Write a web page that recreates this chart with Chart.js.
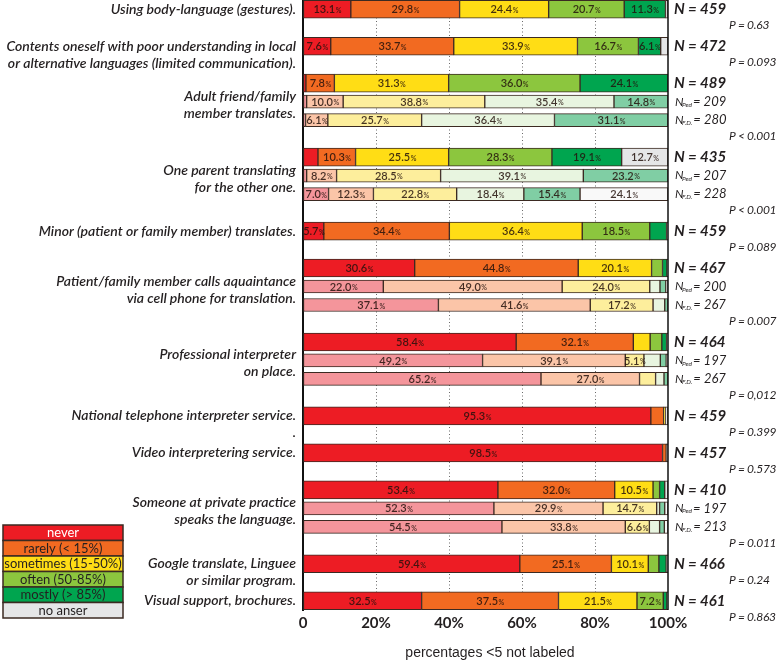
<!DOCTYPE html>
<html>
<head>
<meta charset="utf-8">
<script src="https://cdn.jsdelivr.net/npm/chart.js@4.4.0/dist/chart.umd.min.js"></script>
<style>
  html, body { margin: 0; padding: 0; background: #fff; }
  canvas { display: block; }
</style>
</head>
<body>
<canvas id="chart" width="777" height="663"></canvas>
<script>
// Left hand labels, one per question
const questions = [
    ['Using body-language (gestures).'],
    ['Contents oneself with poor understanding in local', 'or alternative languages (limited communication).'],
    ['Adult friend/family', 'member translates.'],
    ['One parent translating', 'for the other one.'],
    ['Minor (patient or family member) translates.'],
    ['Patient/family member calls aquaintance', 'via cell phone for translation.'],
    ['Professional interpreter', 'on place.'],
    ['National telephone interpreter service.', '.'],
    ['Video interpretering service.'],
    ['Someone at private practice', 'speaks the language.'],
    ['Google translate, Linguee', 'or similar program.'],
    ['Visual support, brochures.']
];
const hasSubgroups = [false, false, true, true, false, true, true, false, false, true, false, false];
const responses = ['never', 'rarely (< 15%)', 'sometimes (15-50%)', 'often (50-85%)', 'mostly (> 85%)', 'no anser'];

// All respondents (%), one value per question
const neverAll     = [13.1, 7.6, 0.8, 4.1, 5.7, 30.6, 58.4, 95.3, 98.5, 53.4, 59.4, 32.5];
const rarelyAll    = [29.8, 33.7, 7.8, 10.3, 34.4, 44.8, 32.1, 3.5, 1.0, 32.0, 25.1, 37.5];
const sometimesAll = [24.4, 33.9, 31.3, 25.5, 36.4, 20.1, 4.6, 0.4, 0, 10.5, 10.1, 21.5];
const oftenAll     = [20.7, 16.7, 36.0, 28.3, 18.5, 3.0, 3.2, 0, 0, 1.8, 2.9, 7.2];
const mostlyAll    = [11.3, 6.1, 24.1, 19.1, 4.6, 1.2, 1.3, 0, 0, 1.4, 2.0, 1.0];
const noAnswerAll  = [0.7, 2.0, 0, 12.7, 0.4, 0.3, 0.4, 0.8, 0.5, 0.9, 0.5, 0.3];

// Pediatricians (%), only questions with subgroups
const neverPed     = [1.0, 1.0, 22.0, 49.2, 52.3];
const rarelyPed    = [10.0, 8.2, 49.0, 39.1, 29.9];
const sometimesPed = [38.8, 28.5, 24.0, 5.1, 14.7];
const oftenPed     = [35.4, 39.1, 2.8, 4.5, 0.8];
const mostlyPed    = [14.8, 23.2, 1.6, 1.6, 1.4];
const noAnswerPed  = [0, 0, 0.6, 0.5, 0.9];

// Family doctors (%), only questions with subgroups
const neverFD      = [0.7, 7.0, 37.1, 65.2, 54.5];
const rarelyFD     = [6.1, 12.3, 41.6, 27.0, 33.8];
const sometimesFD  = [25.7, 22.8, 17.2, 4.4, 6.6];
const oftenFD      = [36.4, 18.4, 3.2, 2.3, 2.8];
const mostlyFD     = [31.1, 15.4, 0.9, 1.1, 1.3];
const noAnswerFD   = [0, 24.1, 0, 0, 1.0];

const nAll = [459, 472, 489, 435, 459, 467, 464, 459, 457, 410, 466, 461];
const nPed = [209, 207, 200, 197, 197];
const nFD  = [280, 228, 267, 267, 213];
const pValues = ['P = 0.63', 'P = 0.093', 'P < 0.001', 'P < 0.001', 'P = 0.089', 'P = 0.007',
                 'P = 0,012', 'P = 0.399', 'P = 0.573', 'P = 0.011', 'P = 0.24', 'P = 0.863'];
const xTicks = [0, 20, 40, 60, 80, 100];

const allSeries = [neverAll, rarelyAll, sometimesAll, oftenAll, mostlyAll, noAnswerAll];
const pedSeries = [neverPed, rarelyPed, sometimesPed, oftenPed, mostlyPed, noAnswerPed];
const fdSeries  = [neverFD, rarelyFD, sometimesFD, oftenFD, mostlyFD, noAnswerFD];

const strongColors = ['#ed1c24', '#f26a21', '#ffdd15', '#8cc63e', '#00a54f', '#e5e6e7'];
const paleColors   = ['#f4959b', '#fbc5a8', '#fdee9c', '#e8f5e0', '#80cea4', '#f9f9f9'];
const textDark = '#231f20';

// Work out the row slots: a question takes main bar + gap, or main + 2 subgroup bars + gap
const mainSlot = [];
let slot = 0;
hasSubgroups.forEach(h => { mainSlot.push(slot); slot += h ? 4 : 2; });
const slotCount = slot - 1;
const slotLabels = Array.from({ length: slotCount }, (_, i) => String(i));
const subGroupIndex = hasSubgroups.map((h, i) => h ? i : -1).filter(i => i >= 0);

function emptySlots() {
    return new Array(slotCount).fill(null);
}

const datasets = [];
responses.forEach((name, r) => {
    const data = emptySlots();
    allSeries[r].forEach((v, g) => { data[mainSlot[g]] = v || null; });
    datasets.push({
        label: name, data: data, backgroundColor: strongColors[r],
        borderColor: '#3b2a22', borderWidth: 1, borderSkipped: false, barThickness: 18
    });
});
responses.forEach((name, r) => {
    const data = emptySlots();
    subGroupIndex.forEach((g, k) => {
        data[mainSlot[g] + 1] = pedSeries[r][k] || null;
        data[mainSlot[g] + 2] = fdSeries[r][k] || null;
    });
    datasets.push({
        label: name + ' (subgroups)', data: data, backgroundColor: paleColors[r],
        borderColor: '#3b2a22', borderWidth: 1, borderSkipped: false, barThickness: 13
    });
});

/**
 * Percent labels inside the segments (values below 5 are left out)
 */
const segmentLabels = {
    id: 'segmentLabels',
    afterDatasetsDraw(chart) {
        const ctx = chart.ctx;
        ctx.save();
        ctx.fillStyle = 'rgba(35,18,12,0.85)';
        ctx.textBaseline = 'middle';
        ctx.textAlign = 'left';
        chart.data.datasets.forEach((ds, di) => {
            const meta = chart.getDatasetMeta(di);
            meta.data.forEach((bar, i) => {
                const v = ds.data[i];
                if (v == null || v < 5) return;
                const num = v.toFixed(1);
                ctx.font = '600 11px Lato';
                const w1 = ctx.measureText(num).width;
                ctx.font = '600 7px Lato';
                const w2 = ctx.measureText('%').width;
                const cx = (bar.x + bar.base) / 2;
                const start = cx - (w1 + w2) / 2;
                ctx.font = '600 11px Lato';
                ctx.fillText(num, start, bar.y + 0.5);
                ctx.font = '600 7px Lato';
                ctx.fillText('%', start + w1 + 0.5, bar.y + 1.5);
            });
        });
        ctx.restore();
    }
};

/**
 * Question labels, N counts, P values, frame, legend and footnote
 */
const annotations = {
    id: 'annotations',
    afterDraw(chart) {
        const ctx = chart.ctx;
        const y = chart.scales.y;
        const area = chart.chartArea;
        ctx.save();

        // right frame line
        ctx.strokeStyle = '#111';
        ctx.lineWidth = 1.5;
        ctx.beginPath();
        ctx.moveTo(area.right, area.top);
        ctx.lineTo(area.right, area.bottom);
        ctx.stroke();

        ctx.fillStyle = textDark;
        ctx.textBaseline = 'middle';
        questions.forEach((lines, g) => {
            const yMain = y.getPixelForValue(mainSlot[g]);
            // left labels
            ctx.font = 'italic 600 14px Lato';
            ctx.textAlign = 'right';
            let firstLine = yMain;
            if (hasSubgroups[g]) firstLine = yMain + 13;
            lines.forEach((line, k) => ctx.fillText(line, area.left - 7, firstLine + k * 17));

            // N counts
            ctx.textAlign = 'left';
            ctx.font = 'italic bold 15px Lato';
            ctx.fillText('N', 674, yMain);
            ctx.fillText('= ' + nAll[g], 688, yMain);
            let lastSlot = mainSlot[g];
            if (hasSubgroups[g]) {
                const k = subGroupIndex.indexOf(g);
                [['Ped', nPed[k]], ['F.D.', nFD[k]]].forEach((item, j) => {
                    const yy = y.getPixelForValue(mainSlot[g] + 1 + j);
                    ctx.font = 'italic 12px Lato';
                    ctx.fillText('N', 675, yy);
                    ctx.font = 'italic 6.5px Lato';
                    const subW = ctx.measureText(item[0]).width;
                    ctx.fillText(item[0], 682, yy + 3);
                    ctx.font = 'italic 13px Lato';
                    ctx.fillText('= ' + item[1], 683 + subW, yy);
                });
                lastSlot = mainSlot[g] + 2;
            }
            ctx.font = 'italic 12px Lato';
            ctx.letterSpacing = '-0.3px';
            ctx.fillText(pValues[g], 729, y.getPixelForValue(lastSlot) + 16);
            ctx.letterSpacing = '0px';
        });

        // legend box
        const lx = 3, ly = 525, lw = 120, lh = 15.5;
        responses.forEach((name, r) => {
            ctx.fillStyle = strongColors[r];
            ctx.fillRect(lx, ly + r * lh, lw, lh);
            ctx.strokeStyle = '#3b2a22';
            ctx.lineWidth = 1.5;
            ctx.strokeRect(lx, ly + r * lh, lw, lh);
            ctx.fillStyle = r === 0 ? '#fff' : textDark;
            ctx.font = '13px Lato';
            ctx.textAlign = 'center';
            ctx.fillText(name, lx + lw / 2, ly + r * lh + lh / 2 + 0.5);
        });

        // footnote
        ctx.fillStyle = textDark;
        ctx.font = '14px "Liberation Sans"';
        ctx.textAlign = 'center';
        ctx.fillText('percentages <5 not labeled', 490, 653);
        ctx.restore();
    }
};

document.addEventListener('DOMContentLoaded', function() {
    const ctx = document.getElementById('chart').getContext('2d');
    new Chart(ctx, {
        type: 'bar',
        data: { labels: slotLabels, datasets: datasets },
        options: {
            responsive: false,
            animation: false,
            indexAxis: 'y',
            layout: { padding: { left: 303, right: 109, top: 0, bottom: 31 } },
            plugins: { legend: { display: false }, tooltip: { enabled: false } },
            scales: {
                x: {
                    stacked: true,
                    min: 0,
                    max: 100,
                    z: 1,
                    afterBuildTicks(scale) {
                        scale.ticks = xTicks.map(v => ({ value: v }));
                    },
                    afterFit(scale) { scale.height = 22; },
                    grid: {
                        drawTicks: false,
                        color: c => (c.tick && (c.tick.value === 0 || c.tick.value === 100)) ? 'rgba(0,0,0,0)' : '#6a6a6a',
                        lineWidth: 1
                    },
                    border: { display: false, dash: [1, 2.5] },
                    ticks: {
                        padding: 4,
                        color: textDark,
                        font: { family: 'Lato', size: 15, weight: 'bold' },
                        callback: v => v === 0 ? '0' : v + '%'
                    }
                },
                y: {
                    stacked: true,
                    afterFit(scale) { scale.width = 0; },
                    grid: { display: false },
                    ticks: { display: false },
                    border: { display: true, color: '#111', width: 2 }
                }
            }
        },
        plugins: [segmentLabels, annotations]
    });
});
</script>
</body>
</html>
